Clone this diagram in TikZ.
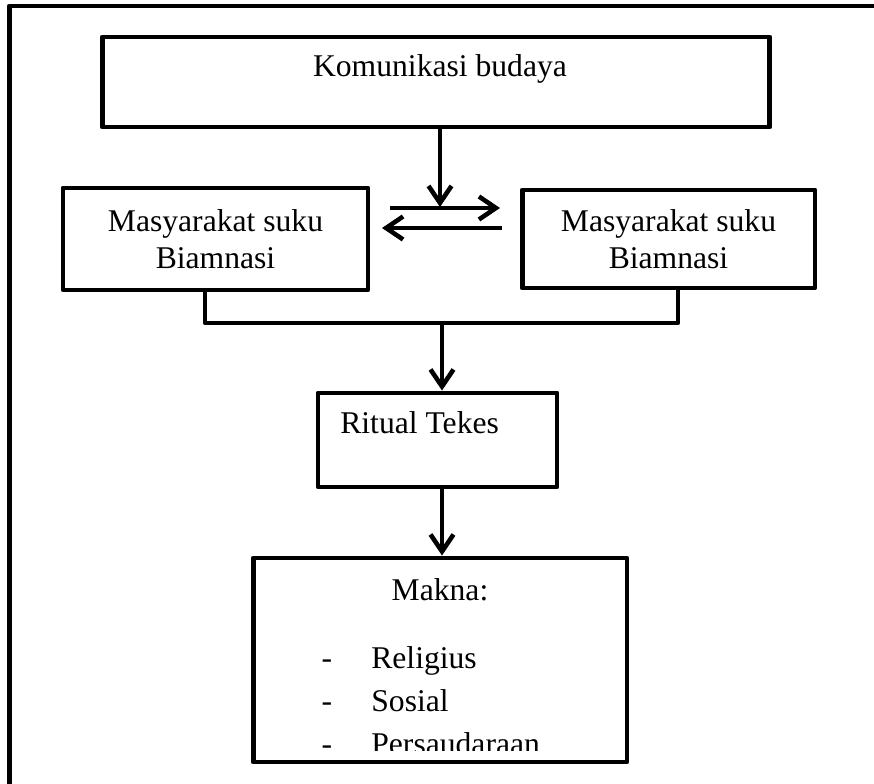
\documentclass[tikz,border=0pt]{standalone}
\usepackage{fontspec}
\setmainfont{Liberation Serif}
\usetikzlibrary{arrows.meta}
\begin{document}
\begin{tikzpicture}[x=0.02cm, y=-0.02cm,
    kotak/.style={draw, line width=2.8pt, line join=round, inner sep=0pt},
    panah/.style={line width=2.6pt, -{Straight Barb[length=3.4mm, width=4.6mm]}},
    teks/.style={inner sep=0pt, font=\fontsize{18pt}{21pt}\selectfont}]
    \useasboundingbox (0,0) rectangle (874,783);
    \clip (0,0) rectangle (874,783);

    % bingkai luar (terpotong di kanan dan bawah)
    \draw[line width=2.8pt, line join=round] (9.5,6) rectangle (900,820);

    % kotak-kotak
    \node[kotak, minimum width=13.36cm, minimum height=1.8cm] (komunikasi) at (436,82) {};
    \node[teks, anchor=base] (tkomunikasi) at (440,77) {Komunikasi budaya};

    \node[kotak, teks, align=center, minimum width=6.1cm, minimum height=2.04cm] (kiri) at (215.5,239) {Masyarakat suku\\Biamnasi};
    \node[kotak, teks, align=center, minimum width=5.86cm, minimum height=1.96cm] (kanan) at (668.5,239) {Masyarakat suku\\Biamnasi};

    \node[kotak, minimum width=4.78cm, minimum height=1.88cm] (ritual) at (437.5,440) {};
    \node[teks, anchor=base west] (tritual) at (340,433) {Ritual Tekes};

    \node[kotak, minimum width=7.48cm, minimum height=4.08cm] (makna) at (440,660) {};
    \node[teks, anchor=base] (tmakna) at (440,600) {Makna:};

    % daftar makna (baris terakhir terpotong)
    \begin{scope}
        \clip (255,560) rectangle (625,750);
        \foreach \isi [count=\i] in {Religius, Sosial, Persaudaraan} {
            \node[teks, anchor=base] (strip\i) at (327,{625+43*\i}) {-};
            \node[teks, anchor=base west] (isi\i) at (371,{625+43*\i}) {\isi};
        }
    \end{scope}

    % titik bantu
    \coordinate (ujung) at (440,207);
    \coordinate (kekanan a) at (390,208);
    \coordinate (kekanan b) at (500,208);
    \coordinate (kekiri a) at (502,228);
    \coordinate (kekiri b) at (382,228);
    \coordinate (siku kiri) at (205,323);
    \coordinate (siku kanan) at (678,323);
    \coordinate (gabung) at (442,323);

    % panah
    \draw[panah] (komunikasi.south -| ujung) -- (ujung);
    \draw[panah] (kekanan a) -- (kekanan b);
    \draw[panah] (kekiri a) -- (kekiri b);
    \draw[line width=2.6pt, line join=round] (kiri.south -| siku kiri) -- (siku kiri) -- (siku kanan) -- (kanan.south -| siku kanan);
    \draw[panah] (gabung) -- (ritual.north -| gabung);
    \draw[panah] (ritual.south -| gabung) -- (makna.north -| gabung);
\end{tikzpicture}
\end{document}
